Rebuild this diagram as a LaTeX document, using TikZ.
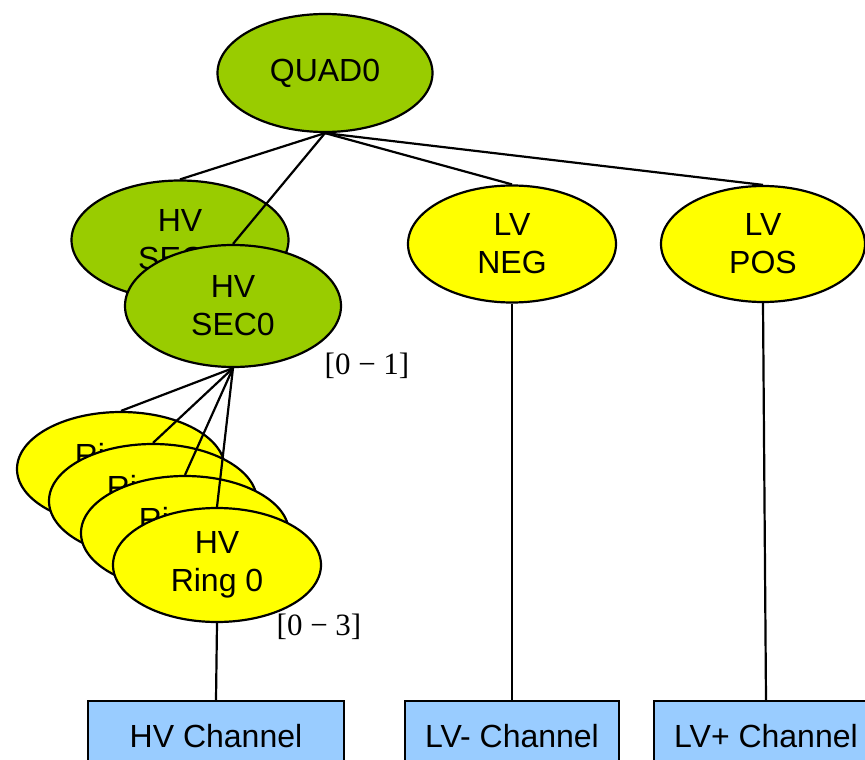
\documentclass[tikz,border=0pt]{standalone}
\usepackage{fontspec}
\setmainfont{Liberation Sans}
\newfontfamily\rangefont{Liberation Serif}
\usetikzlibrary{shapes.geometric}
\definecolor{lgreen}{HTML}{99CC00}
\definecolor{lyellow}{HTML}{FFFF00}
\definecolor{lblue}{HTML}{99CCFF}
\begin{document}
\begin{tikzpicture}[x=1pt,y=-1pt,
  txt/.style={font=\fontsize{32}{38}\selectfont, align=center},
  ell/.style={txt, ellipse, draw=black, line width=2.2pt, inner sep=0pt},
  greenell/.style={ell, fill=lgreen},
  yellowell/.style={ell, fill=lyellow},
  backring/.style={yellowell, minimum width=208pt, minimum height=114pt},
  chanbox/.style={txt, draw=black, line width=2.2pt, fill=lblue, inner sep=0pt, minimum height=70pt, anchor=north},
  conn/.style={line width=2.2pt, draw=black},
  rangelbl/.style={font=\rangefont\fontsize{31}{33}\selectfont}]
\useasboundingbox (0,0) rectangle (865,760);
% top
\node[greenell, minimum width=215pt, minimum height=118pt] (quad) at (325,73) {QUAD0};
% sectors
\node[greenell, minimum width=217pt, minimum height=119pt] (sec1) at (180,240) {HV\\SEC1};
\node[greenell, minimum width=216pt, minimum height=122pt] (sec0) at (233,306) {HV\\SEC0};
\node[yellowell, minimum width=208pt, minimum height=117pt] (lvneg) at (512,244) {LV\\NEG};
\node[yellowell, minimum width=204pt, minimum height=116pt] (lvpos) at (763,244) {LV\\POS};
% rings
\node[backring, label={[txt, yshift=11pt]center:Ring 3}] (ring3) at (121,469) {};
\node[backring, label={[txt, yshift=11pt]center:Ring 2}] (ring2) at (153,501) {};
\node[backring, label={[txt, yshift=11pt]center:Ring 1}] (ring1) at (185,533) {};
\node[yellowell, minimum width=208pt, minimum height=114pt] (ring0) at (217,565) {HV\\Ring 0};
% channels
\node[chanbox, minimum width=256pt] (hvch) at (216,700) {HV Channel};
\node[chanbox, minimum width=214pt] (lvnch) at (512,700) {LV- Channel};
\node[chanbox, minimum width=224pt] (lvpch) at (766,700) {LV+ Channel};
% ranges
\node[rangelbl] (r01) at (367,366) {[0 − 1]};
\node[rangelbl] (r03) at (319,627) {[0 − 3]};
% connectors
\draw[conn] (quad.south) -- (sec1.north);
\draw[conn] (quad.south) -- (sec0.north);
\draw[conn] (quad.south) -- (lvneg.north);
\draw[conn] (quad.south) -- (lvpos.north);
\draw[conn] (sec0.south) -- (ring3.north);
\draw[conn] (sec0.south) -- (ring2.north);
\draw[conn] (sec0.south) -- (ring1.north);
\draw[conn] (sec0.south) -- (ring0.north);
\draw[conn] (ring0.south) -- (hvch.north);
\draw[conn] (lvneg.south) -- (lvnch.north);
\draw[conn] (lvpos.south) -- (lvpch.north);
\end{tikzpicture}
\end{document}
